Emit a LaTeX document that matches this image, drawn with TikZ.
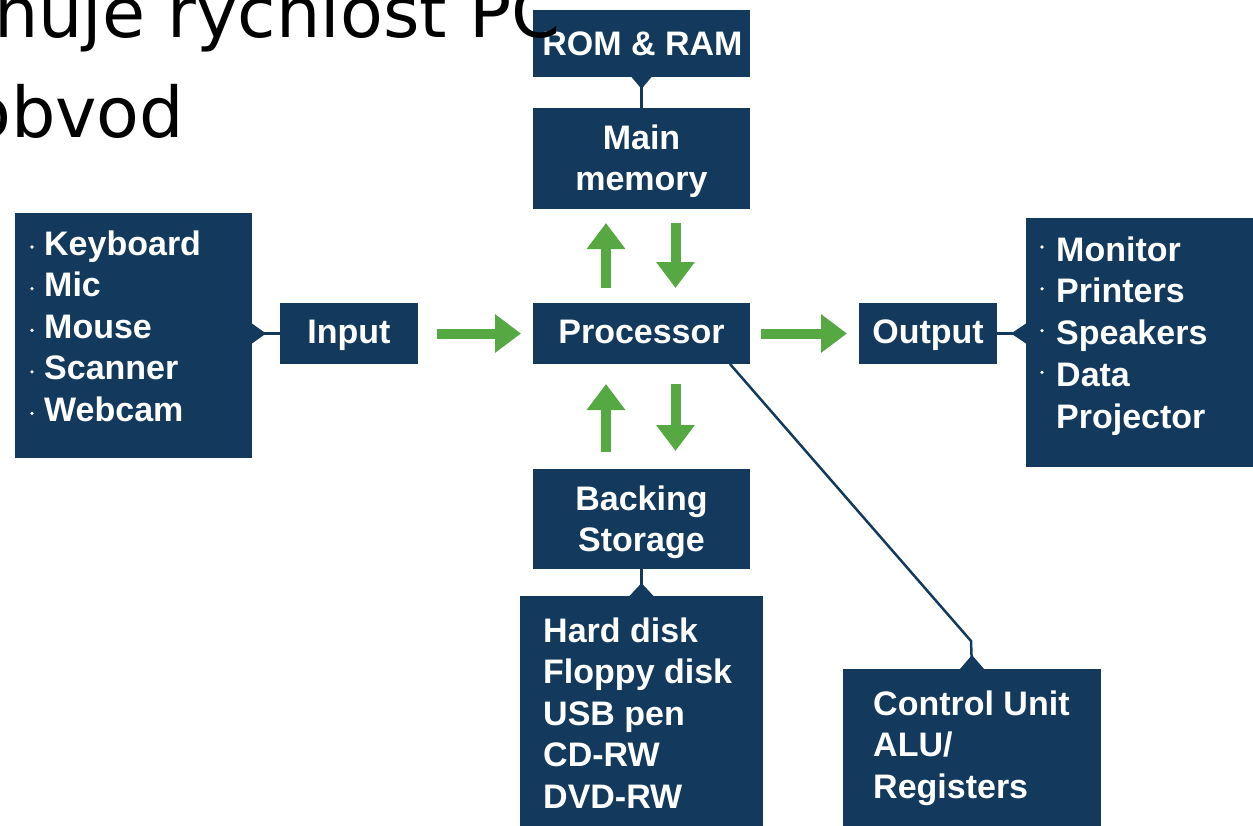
\documentclass[tikz,border=0pt]{standalone}
\usepackage{fontspec}
\usetikzlibrary{arrows.meta}
\newfontfamily\dejavu{DejaVu Sans}
\newfontfamily\boxfont{Liberation Sans}
\definecolor{navy}{RGB}{19,58,92}
\definecolor{gar}{RGB}{86,168,66}
\tikzset{
  box/.style={fill=navy, draw=none, inner sep=0pt, outer sep=0pt},
  txt/.style={text=white, inner sep=0pt, font=\boxfont\bfseries\fontsize{34}{34}\selectfont},
  bdot/.style={circle, fill=white, inner sep=0pt, minimum size=3.6pt},
  garr/.style={draw=gar, line width=10pt, -{Triangle[width=37pt,length=26pt]}},
  conn/.style={draw=navy, line width=2.5pt},
  bigtxt/.style={text=black, inner sep=0pt, anchor=base west, font=\dejavu\fontsize{70}{70}\selectfont}
}
\begin{document}
\begin{tikzpicture}[x=1pt,y=-1pt]
\useasboundingbox (0,0) rectangle (1253,825);
% boxes
\node[box, minimum width=217pt, minimum height=67pt] (rom) at (641.5,43.5) {};
\node[box, minimum width=217pt, minimum height=101pt] (mem) at (641.5,158.5) {};
\node[box, minimum width=237pt, minimum height=245pt] (inlist) at (133.5,335.5) {};
\node[box, minimum width=138pt, minimum height=61pt] (input) at (349,333.5) {};
\node[box, minimum width=217pt, minimum height=61pt] (proc) at (641.5,333.5) {};
\node[box, minimum width=138pt, minimum height=61pt] (output) at (928,333.5) {};
\node[box, minimum width=244pt, minimum height=249pt] (outlist) at (1148,342.5) {};
\node[box, minimum width=217pt, minimum height=100pt] (back) at (641.5,519) {};
\node[box, minimum width=243pt, minimum height=244pt] (stlist) at (641.5,718) {};
\node[box, minimum width=258pt, minimum height=171pt] (ctrl) at (972,754.5) {};
% box texts
\node[txt, anchor=base] (romT) at (642.5,55) {ROM \& RAM};
\node[txt, anchor=base] (memT1) at (641.5,149) {Main};
\node[txt, anchor=base] (memT2) at (641.5,190) {memory};
\node[txt, anchor=base] (inT) at (349,343) {Input};
\node[txt, anchor=base] (procT) at (641.5,343) {Processor};
\node[txt, anchor=base] (outT) at (928,343) {Output};
\node[txt, anchor=base] (backT1) at (641.5,510) {Backing};
\node[txt, anchor=base] (backT2) at (641.5,551) {Storage};
\foreach \w [count=\i] in {Keyboard,Mic,Mouse,Scanner,Webcam}{
  \node[txt, anchor=base west] (inl\i) at (44,{255+41.6*(\i-1)}) {\w};
  \node[bdot] (ind\i) at (32,{247+41.6*(\i-1)}) {};
}
\foreach \w [count=\i] in {Monitor,Printers,Speakers,Data,Projector}{
  \node[txt, anchor=base west] (outl\i) at (1056,{261+41.8*(\i-1)}) {\w};
}
\foreach \i in {1,...,4}{
  \node[bdot] (outd\i) at (1042,{247+41.8*(\i-1)}) {};
}
\foreach \w [count=\i] in {Hard disk,Floppy disk,USB pen,CD-RW,DVD-RW}{
  \node[txt, anchor=base west] (stl\i) at (543,{642+41.5*(\i-1)}) {\w};
}
\foreach \w [count=\i] in {Control Unit,ALU/,Registers}{
  \node[txt, anchor=base west] (ctl\i) at (873,{715+41.6*(\i-1)}) {\w};
}
% navy connectors
\draw[conn] (rom.south) -- (mem.north);
\fill[navy] ([xshift=-10pt]rom.south) -- ([xshift=10pt]rom.south) -- ([yshift=-12pt]rom.south) -- cycle;
\coordinate (inj) at (inlist.east |- input.west);
\draw[conn] (inj) -- (input.west);
\fill[navy] ([yshift=10pt]inj) -- ([yshift=-10pt]inj) -- ([xshift=14pt]inj) -- cycle;
\coordinate (outj) at (outlist.west |- output.east);
\draw[conn] (output.east) -- (outj);
\fill[navy] ([yshift=10pt]outj) -- ([yshift=-10pt]outj) -- ([xshift=-15pt]outj) -- cycle;
\draw[conn] (back.south) -- (stlist.north);
\fill[navy] ([xshift=-12pt]stlist.north) -- ([xshift=12pt]stlist.north) -- ([yshift=13pt]stlist.north) -- cycle;
\coordinate (cbend) at (971,641);
\draw[conn] ([xshift=-20pt]proc.south east) -- (cbend) -- (ctrl.north);
\fill[navy] ([xshift=-12pt]ctrl.north) -- ([xshift=12pt]ctrl.north) -- ([yshift=14pt]ctrl.north) -- cycle;
% green arrows
\draw[garr, shorten <=19pt, shorten >=12pt] (input) -- (proc);
\draw[garr, shorten <=11pt, shorten >=12pt] (proc) -- (output);
\draw[garr, shorten <=15pt, shorten >=14pt] ([xshift=-35.5pt]proc.north) -- ([xshift=-35.5pt]mem.south);
\draw[garr, shorten <=14pt, shorten >=15pt] ([xshift=34pt]mem.south) -- ([xshift=34pt]proc.north);
\draw[garr, shorten <=17pt, shorten >=20pt] ([xshift=-35.5pt]back.north) -- ([xshift=-35.5pt]proc.south);
\draw[garr, shorten <=20pt, shorten >=18pt] ([xshift=34pt]proc.south) -- ([xshift=34pt]back.north);
% background text
\node[bigtxt] (t1) at (-6,37) {nuje rychlost PC};
\node[bigtxt] (t2) at (-32,137) {obvod};
\end{tikzpicture}
\end{document}
